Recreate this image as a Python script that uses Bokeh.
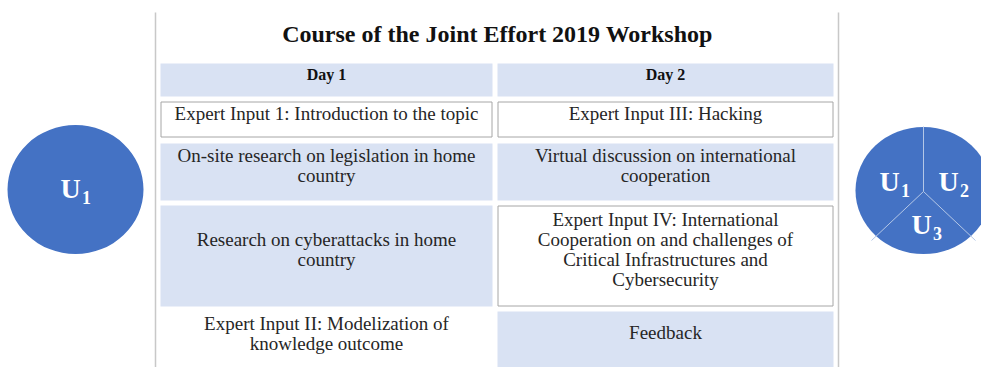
from bokeh.plotting import figure
from bokeh.models import Range1d
from bokeh.core.properties import value
from bokeh.embed import file_html
from bokeh.resources import INLINE

# ---- content ----
title = "Course of the Joint Effort 2019 Workshop"
day_labels = ["Day 1", "Day 2"]
day1_items = [
    "Expert Input 1: Introduction to the topic",
    "On-site research on legislation in home\ncountry",
    "Research on cyberattacks in home\ncountry",
    "Expert Input II: Modelization of\nknowledge outcome",
]
day2_items = [
    "Expert Input III: Hacking",
    "Virtual discussion on international\ncooperation",
    "Expert Input IV: International\nCooperation on and challenges of\nCritical Infrastructures and\nCybersecurity",
    "Feedback",
]
# cell styles: "blue" filled, "box" white with border, "plain" no fill
day1_styles = ["box", "blue", "blue", "plain"]
day2_styles = ["box", "blue", "box", "blue"]
left_group = ["1"]
right_group = ["1", "2", "3"]

# ---- layout (page pixel coordinates) ----
col_x = [(160, 492), (497, 833)]
header_y = (63, 96)
rows1 = [(101, 137), (143, 200), (205, 306), (306, 362)]
rows2 = [(101, 137), (143, 200), (205, 306), (311, 380)]
text_y1 = [113, 165, 249, 333]
text_y2 = [113, 165, 249, 332]

BLUE_FILL = "#D9E2F3"
CIRCLE = "#4472C4"
TXT = "#262626"
FONT = value("Liberation Serif")

W, H = 981, 367
p = figure(width=W, height=H, output_backend="svg", toolbar_location=None,
           x_range=Range1d(0, W), y_range=Range1d(H, 0), min_border=0)
p.axis.visible = False
p.grid.visible = False
p.outline_line_color = None
p.background_fill_color = "white"

# vertical separators
p.segment(x0=[155, 838], y0=[12, 12], x1=[155, 838], y1=[370, 370],
          line_color="#C8C8C8", line_width=1.5)

# title
p.text(x=[497], y=[33], text=[title], text_font=FONT, text_font_style="bold",
       text_font_size="24px", text_align="center", text_baseline="middle", text_color="#111111")

# headers
for (x0, x1), lab in zip(col_x, day_labels):
    p.quad(left=[x0], right=[x1], top=[header_y[0]], bottom=[header_y[1]],
           fill_color=BLUE_FILL, line_color=None)
    p.text(x=[(x0 + x1) / 2], y=[74], text=[lab], text_font=FONT, text_font_style="bold",
           text_font_size="16px", text_align="center", text_baseline="middle", text_color="#111111")

def draw_col(xs, items, styles, rows, ty):
    x0, x1 = xs
    for item, st, (r0, r1), y in zip(items, styles, rows, ty):
        if st == "blue":
            p.quad(left=[x0], right=[x1], top=[r0], bottom=[r1], fill_color=BLUE_FILL, line_color=None)
        elif st == "box":
            p.quad(left=[x0 + 0.5], right=[x1 - 0.5], top=[r0 + 0.5], bottom=[r1 - 0.5],
                   fill_color="white", line_color="#A6A6A6", line_width=1)
        p.text(x=[(x0 + x1) / 2], y=[y], text=[item], text_font=FONT, text_font_size="19px",
               text_align="center", text_baseline="middle", text_color=TXT, text_line_height=0.95)

draw_col(col_x[0], day1_items, day1_styles, rows1, text_y1)
draw_col(col_x[1], day2_items, day2_styles, rows2, text_y2)

# left circle
p.ellipse(x=[75], y=[189], width=[136], height=[129], fill_color=CIRCLE, line_color=None)
p.text(x=[70], y=[188], text=["U"], text_font=FONT, text_font_style="bold", text_font_size="28px",
       text_align="center", text_baseline="middle", text_color="white")
p.text(x=[86], y=[197], text=left_group, text_font=FONT, text_font_style="bold", text_font_size="18px",
       text_align="center", text_baseline="middle", text_color="white")

# right circle
cx, cy = 923, 191
p.ellipse(x=[cx], y=[190], width=[136], height=[127], fill_color=CIRCLE, line_color=None)
p.segment(x0=[cx, cx, cx], y0=[cy, cy, cy], x1=[cx, cx - 52, cx + 52], y1=[126, 240, 240],
          line_color="#B4C7E7", line_width=1)
ux = [889, 948, 921]
uy = [181, 181, 224]
p.text(x=ux, y=uy, text=["U"] * 3, text_font=FONT, text_font_style="bold", text_font_size="28px",
       text_align="center", text_baseline="middle", text_color="white")
p.text(x=[u + 16 for u in ux], y=[u + 9 for u in uy], text=right_group, text_font=FONT,
       text_font_style="bold", text_font_size="18px", text_align="center", text_baseline="middle",
       text_color="white")

open("out.html", "w").write(file_html(p, INLINE))
